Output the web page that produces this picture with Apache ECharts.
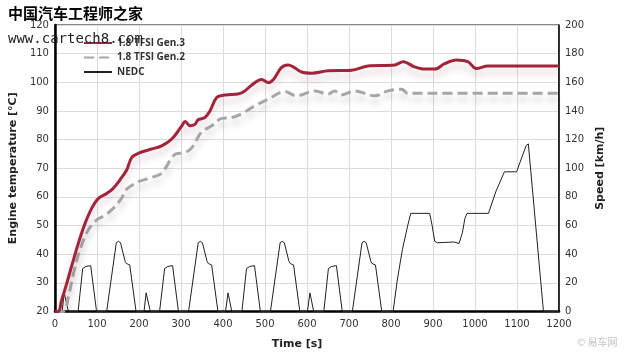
<!DOCTYPE html>
<html>
<head>
<meta charset="utf-8">
<script src="https://cdn.jsdelivr.net/npm/echarts@6/dist/echarts.min.js"></script>
<style>
html,body{margin:0;padding:0;background:#fff;}
#chart{width:630px;height:357px;}
</style>
</head>
<body>
<div id="chart"></div>
<script>
// ---- data (time [s], value) ----
const seriesNames = ['1.8 TFSI Gen.3', '1.8 TFSI Gen.2', 'NEDC'];
const timeTicks = [0,100,200,300,400,500,600,700,800,900,1000,1100,1200];

const gen3Temp = [
  [0,20],[8,20],[16,24],[28,29.8],[40,36],[55,43.5],[71,50.5],[87,55.9],[103,59.4],[123,61.2],
  [138,62.9],[154,65.8],[171,69.5],[183,73.8],[203,75.5],[230,76.7],[254,77.8],[278,80.2],
  [302,84.8],[310,86.3],[322,84.8],[333,85.3],[341,86.9],[357,87.7],[369,90],[385,94.7],
  [405,95.6],[436,95.9],[452,97],[468,99],[492,101],[508,99.9],[520,101],[539,105.1],
  [555,106],[567,105.4],[587,103.6],[611,103.2],[650,104],[706,104.2],[745,105.7],[809,106],
  [829,107.2],[856,105.4],[880,104.6],[904,104.6],[928,106.5],[955,107.8],[983,107.2],
  [1003,104.8],[1031,105.7],[1200,105.7]
];

const gen2Temp = [
  [0,20],[20,20],[32,25.2],[44,33.3],[59,41.4],[79,48.4],[99,51.9],[119,53.6],[138,55.9],
  [158,59.4],[170,62.6],[199,65.3],[230,66.8],[254,68.3],[286,74.9],[310,75.5],[326,77.2],
  [349,82.7],[373,84.8],[397,87.4],[421,87.7],[444,89],[476,91.8],[508,94.1],[547,96.8],
  [575,95.3],[619,97],[650,95.9],[666,97],[682,95.6],[714,97],[761,95.3],[793,97],
  [825,97.6],[840,96.2],[1200,96.2]
];

const nedcSpeed = [
  [0,0],[17,0],[22,13],[26,13],[32,0],
  [55,0],[66,30],[74,31.5],[85,32],[99,0],
  [123,0],[146,48],[151,49],[156,48],[167,35],[170,33.5],[178,32.5],[193,0],
  [212,0],[217,13],[221,13],[227,0],
  [249,0],[261,30],[269,31.5],[280,32],[294,0],
  [318,0],[341,48],[346,49],[351,48],[362,35],[365,33.5],[373,32.5],[388,0],
  [406,0],[412,13],[416,13],[421,0],
  [445,0],[456,30],[464,31.5],[475,32],[489,0],
  [513,0],[536,48],[541,49],[546,48],[557,35],[560,33.5],[568,32.5],[583,0],
  [601,0],[607,13],[611,13],[616,0],
  [640,0],[651,30],[659,31.5],[670,32],[684,0],
  [708,0],[731,48],[736,49],[741,48],[752,35],[755,33.5],[763,32.5],[778,0],
  [805,0],[815,22],[827,43],[839,59],[847,68.5],[892,68.5],[898,60],[904,49],[910,48],
  [950,48.5],[962,47.5],[970,55],[976,65],[981,68.5],[1032,68.5],[1050,84],[1070,97.5],
  [1099,97.5],[1112,108],[1122,116],[1127,117],[1130,116],[1163,0],[1200,0]
];

const chart = echarts.init(document.getElementById('chart'), null, {renderer:'canvas'});
const labelFont = {fontFamily:'DejaVu Sans', fontSize:10, color:'#333'};
const nameFont = {fontFamily:'DejaVu Sans', fontSize:11, fontWeight:'bold', color:'#222'};

chart.setOption({
  animation:false,
  backgroundColor:'#fff',
  grid:{left:53, right:71, top:25, bottom:45.5, show:true, borderColor:'#111', borderWidth:1, containLabel:false},
  legend:{
    orient:'vertical', left:78, top:33, itemWidth:28, itemHeight:10, itemGap:4.5,
    data:seriesNames,
    itemStyle:{opacity:0},
    textStyle:{fontFamily:'Open Sans', fontSize:10, fontWeight:'bold', color:'#333'}
  },
  xAxis:{
    type:'value', min:0, max:1200, interval:100,
    name:'Time [s]', nameLocation:'middle', nameGap:27,
    nameTextStyle:Object.assign({padding:[0,20,0,0]}, nameFont),
    axisLine:{show:true, onZero:false, lineStyle:{color:'#000', width:2.5}},
    axisTick:{show:false},
    axisLabel:Object.assign({margin:8, formatter:function(v){return String(v);}}, labelFont),
    splitLine:{show:true, lineStyle:{color:'#dcdcdc', width:1}}
  },
  yAxis:[{
    type:'value', min:20, max:120, interval:10, position:'left',
    name:'Engine temperature [°C]', nameLocation:'middle', nameGap:26, nameTextStyle:nameFont,
    axisLine:{show:true, lineStyle:{color:'#000', width:2.5}},
    axisTick:{show:false},
    axisLabel:Object.assign({margin:6}, labelFont),
    splitLine:{show:true, lineStyle:{color:'#dcdcdc', width:1}}
  },{
    type:'value', min:0, max:200, interval:20, position:'right',
    name:'Speed [km/h]', nameLocation:'middle', nameGap:34, nameTextStyle:nameFont,
    axisLine:{show:true, lineStyle:{color:'#000', width:1.5}},
    axisTick:{show:false},
    axisLabel:Object.assign({margin:6}, labelFont),
    splitLine:{show:false}
  }],
  series:[{
    name:seriesNames[2], type:'line', yAxisIndex:1, data:nedcSpeed, showSymbol:false, symbol:'none',
    lineStyle:{color:'#222', width:1}, itemStyle:{color:'#222'}, z:2
  },{
    name:seriesNames[1], type:'line', yAxisIndex:0, data:gen2Temp, showSymbol:false, symbol:'none', smooth:0.35,
    lineStyle:{color:'#a6a6a6', width:3, type:[10,5], shadowColor:'rgba(0,0,0,0.22)', shadowBlur:7, shadowOffsetY:6},
    itemStyle:{color:'#a6a6a6'}, z:3
  },{
    name:seriesNames[0], type:'line', yAxisIndex:0, data:gen3Temp, showSymbol:false, symbol:'none', smooth:0.35,
    lineStyle:{color:'#a3233a', width:3, shadowColor:'rgba(120,60,70,0.25)', shadowBlur:7, shadowOffsetY:6},
    itemStyle:{color:'#a3233a'}, z:4
  }],
  graphic:[
    {type:'text', left:8, top:6, z:100, style:{text:'中国汽车工程师之家', fontFamily:'Noto Sans CJK SC', fontSize:15, fontWeight:'bold', fill:'#000'}},
    {type:'text', left:8, top:32, z:100, style:{text:'www.cartech8.com', fontFamily:'DejaVu Sans Mono', fontSize:14, fill:'#222'}},
    {type:'text', left:577, top:337, z:100, style:{text:'© 易车网', fontFamily:'Noto Sans CJK SC', fontSize:10, fill:'#c4c4c4'}}
  ]
});
</script>
</body>
</html>
